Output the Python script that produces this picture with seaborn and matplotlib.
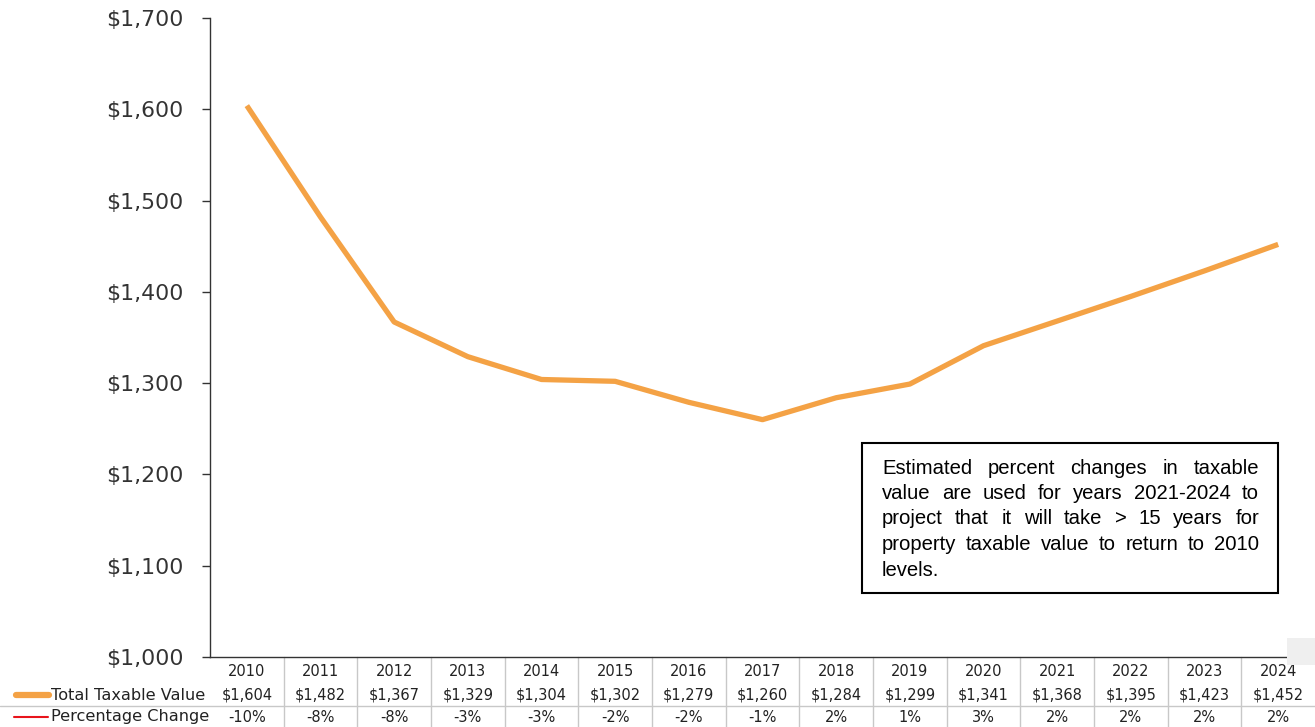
import matplotlib
matplotlib.use("Agg")
import matplotlib.pyplot as plt
import matplotlib.patches as mpatches
import matplotlib.transforms as mtrans
import seaborn as sns
import pandas as pd

years = [2010, 2011, 2012, 2013, 2014, 2015, 2016, 2017, 2018, 2019, 2020, 2021, 2022, 2023, 2024]
total_value = [1604, 1482, 1367, 1329, 1304, 1302, 1279, 1260, 1284, 1299, 1341, 1368, 1395, 1423, 1452]
pct_change = [-10, -8, -8, -3, -3, -2, -2, -1, 2, 1, 3, 2, 2, 2, 2]
y_ticks = [1000, 1100, 1200, 1300, 1400, 1500, 1600, 1700]
series_names = ["Total Taxable Value", "Percentage Change"]
note_lines = [
    "Estimated percent changes in taxable",
    "value are used for years 2021-2024 to",
    "project that it will take > 15 years for",
    "property taxable value to return to 2010",
    "levels.",
]

ORANGE = "#F4A245"
RED = "#E8141B"

sns.set_theme(style="white")
plt.rcParams['font.family'] = ['DejaVu Sans']

W, H = 1315, 727
fig = plt.figure(figsize=(W / 100, H / 100), dpi=100)
ax = fig.add_axes([210 / W, (H - 657) / H, 1 - 210 / W, (657 - 18) / H])

df = pd.DataFrame({"year": years, "value": total_value})
sns.lineplot(data=df, x="year", y="value", ax=ax, color=ORANGE, linewidth=3.8,
             solid_capstyle="butt", legend=False)

ax.set_xlim(years[0] - 0.5, years[-1] + 0.5)
ax.set_ylim(y_ticks[0], y_ticks[-1])
ax.set_yticks(y_ticks)
ax.set_yticklabels([f"${v:,}" for v in y_ticks], fontsize=15.8, color="#333333")
ax.set_xticks([])
ax.set_xlabel("")
ax.set_ylabel("")
for s in ["top", "right"]:
    ax.spines[s].set_visible(False)
ax.spines["left"].set_color("#333333")
ax.spines["left"].set_linewidth(1.0)
ax.spines["bottom"].set_color("#333333")
ax.spines["bottom"].set_linewidth(1.0)
ax.tick_params(axis="y", which="both", left=True, length=6, width=1, color="#333333", pad=13)

# data table below the axis
trans = mtrans.blended_transform_factory(ax.transData, fig.transFigure)
row_year = (H - 671) / H
row_val = (H - 695) / H
row_pct = (H - 717) / H
for i, yr in enumerate(years):
    ax.text(yr, row_year, str(yr), transform=trans, ha="center", va="center", fontsize=10.5, color="#222222", clip_on=False)
    ax.text(yr, row_val, f"${total_value[i]:,}", transform=trans, ha="center", va="center", fontsize=10.5, color="#222222", clip_on=False)
    ax.text(yr, row_pct, f"{pct_change[i]}%", transform=trans, ha="center", va="center", fontsize=10.5, color="#222222", clip_on=False)

grid_c = "#C8C8C8"
for yr in years[:-1]:
    ax.add_line(plt.Line2D([yr + 0.5, yr + 0.5], [0, (H - 657) / H], transform=trans, color=grid_c, lw=1, clip_on=False))
fig.add_artist(plt.Line2D([0, 1], [(H - 706) / H, (H - 706) / H], transform=fig.transFigure, color=grid_c, lw=1))

# row labels with legend keys
fig.add_artist(plt.Line2D([16 / W, 49 / W], [row_val, row_val], transform=fig.transFigure, color=ORANGE, lw=4.5, solid_capstyle="round"))
fig.add_artist(plt.Line2D([14 / W, 48 / W], [row_pct, row_pct], transform=fig.transFigure, color=RED, lw=1.5))
fig.text(51 / W, row_val, series_names[0], ha="left", va="center", fontsize=11.6, color="#222222")
fig.text(51 / W, row_pct, series_names[1], ha="left", va="center", fontsize=11.6, color="#222222")

# light gray square artifact bottom right
fig.add_artist(mpatches.Rectangle((1287 / W, (H - 665) / H), 28 / W, 27 / H, transform=fig.transFigure,
                                  facecolor="#EFEFEF", edgecolor="none"))

# note box
bx0, bx1, by0, by1 = 862, 1278, 443, 593
fig.add_artist(mpatches.Rectangle((bx0 / W, (H - by1) / H), (bx1 - bx0) / W, (by1 - by0) / H,
                                  transform=fig.transFigure, facecolor="white", edgecolor="black", lw=1.5, zorder=5))

fs = 14.6
fam = "Liberation Sans"
renderer = fig.canvas.get_renderer()
tx0, tx1 = 882, 1259
def wwidth(s):
    t = fig.text(0, 0, s, fontsize=fs, family=fam)
    w = t.get_window_extent(renderer).width
    t.remove()
    return w
space_w = wwidth("a b") - wwidth("ab")

y0 = 468
lh = 25.5
for li, line in enumerate(note_lines):
    lw = line.split()
    yy = (H - (y0 + li * lh)) / H
    widths = [wwidth(x) for x in lw]
    if li < len(note_lines) - 1 and len(lw) > 1:
        gap = ((tx1 - tx0) - sum(widths)) / (len(lw) - 1)
    else:
        gap = space_w
    x = tx0
    for wd, wdw in zip(lw, widths):
        fig.text(x / W, yy, wd, fontsize=fs, family=fam, ha="left", va="center", color="black", zorder=6)
        x += wdw + gap

fig.savefig("out.png", dpi=100)
